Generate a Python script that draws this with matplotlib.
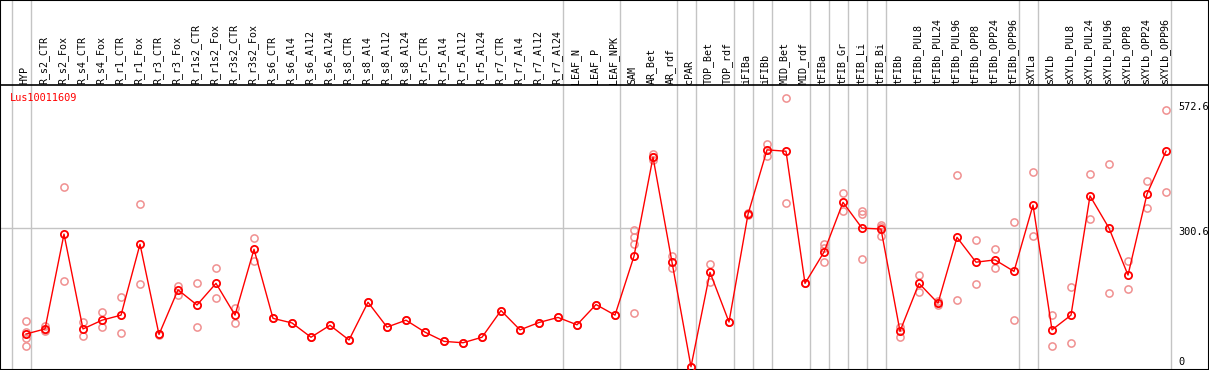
import matplotlib
matplotlib.use("Agg")
import matplotlib.pyplot as plt

# samples along the x axis
samples = ["HYP", "R_s2_CTR", "R_s2_Fox", "R_s4_CTR", "R_s4_Fox", "R_r1_CTR", "R_r1_Fox",
           "R_r3_CTR", "R_r3_Fox", "R_r1s2_CTR", "R_r1s2_Fox", "R_r3s2_CTR", "R_r3s2_Fox",
           "R_s6_CTR", "R_s6_Al4", "R_s6_Al12", "R_s6_Al24", "R_s8_CTR", "R_s8_Al4",
           "R_s8_Al12", "R_s8_Al24", "R_r5_CTR", "R_r5_Al4", "R_r5_Al12", "R_r5_Al24",
           "R_r7_CTR", "R_r7_Al4", "R_r7_Al12", "R_r7_Al24", "LEAF_N", "LEAF_P", "LEAF_NPK",
           "SAM", "AR_Bet", "AR_rdf", "cPAR", "TOP_Bet", "TOP_rdf", "iFIBa", "iFIBb",
           "MID_Bet", "MID_rdf", "tFIBa", "tFIB_Gr", "tFIB_Li", "tFIB_Bi", "tFIBb",
           "tFIBb_PUL8", "tFIBb_PUL24", "tFIBb_PUL96", "tFIBb_OPP8", "tFIBb_OPP24",
           "tFIBb_OPP96", "sXYLa", "sXYLb", "sXYLb_PUL8", "sXYLb_PUL24", "sXYLb_PUL96",
           "sXYLb_OPP8", "sXYLb_OPP24", "sXYLb_OPP96"]

# mean expression per sample
means = [71, 82, 288, 82, 101, 112, 266, 70, 167, 134, 181, 112, 255,
         105, 95, 64, 90, 58, 140, 86, 101, 75, 55, 52, 64, 122, 80, 96, 107,
         91, 135, 112, 240, 455, 227, 0, 205, 97, 331, 471, 468, 181,
         249, 357, 301, 299, 77, 181, 138, 281, 227, 232, 207,
         351, 80, 112, 371, 301, 199, 375, 468]

# replicate values per sample
reps = [[99, 75, 62, 46], [89, 78, 80], [390, 186], [97, 66], [119, 86], [151, 73],
        [353, 179], [72, 68], [176, 156], [182, 86], [214, 149], [128, 96], [279, 229],
        [105], [95], [64], [90], [58], [140], [86], [101], [75], [55], [52], [64],
        [122], [80], [96], [107], [91], [135], [112],
        [297, 282, 266, 116], [461, 455, 449], [241, 214], [0], [222, 185], [97],
        [333, 329], [484, 458], [583, 355], [181],
        [266, 257, 227], [377, 338], [339, 331, 235], [308, 304, 284], [87, 65],
        [199, 163], [143, 134], [416, 145], [275, 180], [256, 214], [314, 101],
        [422, 284], [112, 45], [173, 51], [418, 320], [440, 159], [229, 168],
        [403, 345], [557, 379]]

# group separators: drawn just after these sample indices
separators = [-1, 0, 28, 31, 34, 35, 37, 38, 39, 41, 42, 43, 44, 45, 52, 53, 60]

gene = "Lus10011609"
ref_vals = [572.6, 300.6, 0]
ref_text = ["572.6", "300.6", "0"]

W, H = 1209, 370
fig = plt.figure(figsize=(W / 100, H / 100), dpi=100)
ax = fig.add_axes([0, 0, 1, 1])

# pixel mapping: sample i at x = 26 + 19 i ; value v at y = 366.7 - 0.4604 v
sx, x0 = 19.0, 26.0
sy, y0 = 0.4604, 366.7
ax.set_xlim(-x0 / sx, (W - x0) / sx)
ax.set_ylim((y0 - H) / sy, y0 / sy)
def vpx(p):  # pixel row -> value
    return (y0 - p) / sy

mono = "DejaVu Sans Mono"
n = len(samples)
xs = list(range(n))

for s in separators:
    ax.axvline(s + 0.25, color="#c4c4c4", lw=1, zorder=1)
ax.hlines(ref_vals[1], ax.get_xlim()[0], 60.25, color="#c4c4c4", lw=1, zorder=1)
ax.axhline(vpx(85), color="black", lw=1.2, zorder=3)

for i, r in enumerate(reps):
    ax.plot([i] * len(r), r, ls="none", marker="o", ms=5.2, mfc="none",
            mec="#f09090", mew=1.1, zorder=2)
ax.plot(xs, means, color="#ff0000", lw=1, marker="o", ms=5.2, mfc="none",
        mec="#ff0000", mew=1.3, zorder=4)

for i, s in enumerate(samples):
    ax.text(i - 0.08, vpx(83.5), s, rotation=90, ha="center", va="bottom",
            family=mono, fontsize=7.2, color="black")

ax.text((10 - x0) / sx, vpx(97.5), gene, ha="left", va="center", family=mono,
        fontsize=7.4, color="#ff0000")

lab_x = (1178 - x0) / sx
for v, t in zip(ref_vals, ref_text):
    yy = min(v - 8.7, vpx(361.7)) if v > 0 else vpx(361.7)
    ax.text(lab_x, v - 8.7 if v > 0 else yy, t, ha="left", va="center",
            family=mono, fontsize=7.4, color="black")

ax.set_xticks([]); ax.set_yticks([])
for sp in ax.spines.values():
    sp.set_color("black"); sp.set_linewidth(1.5)

fig.savefig("out.png", dpi=100)
